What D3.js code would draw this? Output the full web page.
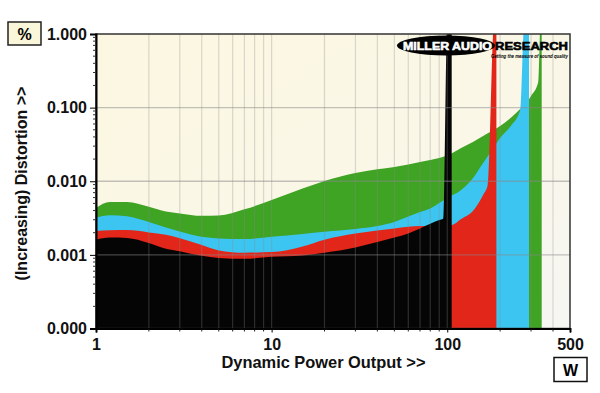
<!DOCTYPE html>
<html>
<head>
<meta charset="utf-8">
<script src="https://cdn.jsdelivr.net/npm/d3@7"></script>
<style>
  body { margin: 0; background: #fff; }
  svg { display: block; font-family: "Liberation Sans", Arial, sans-serif; }
  .tick text { font-weight: bold; font-size: 16px; fill: #111; }
</style>
</head>
<body>
<div id="chart"></div>
<script>
// power (W) and distortion (%), one pair of arrays per trace
var powerGreen = [1, 1.2, 1.5, 2, 2.5, 3, 4, 5, 7, 10, 15, 20, 25, 30, 40, 50, 60, 70, 80, 90, 100, 120, 140, 160, 200, 250, 300, 330, 340, 345];
var distGreen = [0.00433, 0.00522, 0.00522, 0.00449, 0.00387, 0.00366, 0.00339, 0.00342, 0.00415, 0.00556, 0.00796, 0.0101, 0.0117, 0.0129, 0.0145, 0.0156, 0.0169, 0.0182, 0.0194, 0.0207, 0.0223, 0.0283, 0.0341, 0.0411, 0.0562, 0.0871, 0.144, 0.223, 1.5, 1.5];

var powerBlue = [1, 1.2, 1.5, 2, 2.5, 3, 4, 5, 7, 10, 15, 20, 30, 40, 50, 60, 70, 80, 90, 100, 120, 140, 160, 180, 200, 230, 260, 275, 292];
var distBlue = [0.00321, 0.00344, 0.00335, 0.00279, 0.00235, 0.00207, 0.00176, 0.00167, 0.00164, 0.00176, 0.00192, 0.00206, 0.00224, 0.00246, 0.00279, 0.00331, 0.00382, 0.00426, 0.00506, 0.00591, 0.00759, 0.0110, 0.0177, 0.0265, 0.0387, 0.0562, 0.0927, 1.5, 1.5];

var powerRed = [1, 1.2, 1.5, 2, 2.5, 3, 4, 5, 7, 10, 15, 20, 30, 40, 50, 60, 70, 80, 90, 106, 120, 140, 160, 170, 185, 190.5];
var distRed = [0.00211, 0.00216, 0.00217, 0.00202, 0.00187, 0.00168, 0.00136, 0.00115, 0.00107, 0.00109, 0.00130, 0.00161, 0.00195, 0.00214, 0.00228, 0.00241, 0.00246, 0.00249, 0.00252, 0.00254, 0.00306, 0.00394, 0.00649, 0.00887, 1.5, 1.5];

var powerBlack = [1, 1.2, 1.5, 2, 2.5, 3, 4, 5, 7, 10, 15, 20, 30, 40, 50, 60, 70, 80, 90, 95, 100, 106];
var distBlack = [0.00161, 0.00172, 0.00170, 0.00145, 0.00121, 0.00112, 0.00097, 0.00091, 0.000885, 0.00094, 0.00098, 0.00107, 0.00126, 0.00149, 0.00172, 0.00195, 0.00228, 0.00264, 0.00297, 0.00313, 1.5, 1.5];

// axis ticks
var xTicks = [1, 10, 100, 500];
var xTickLabels = ["1", "10", "100", "500"];
var yTicks = [0.0001, 0.001, 0.01, 0.1, 1];
var yTickLabels = ["0.000", "0.001", "0.010", "0.100", "1.000"];

var svgWidth = 600, svgHeight = 393;
var margin = {top: 34, right: 30, bottom: 64.5, left: 96};
var width = svgWidth - margin.left - margin.right;
var height = svgHeight - margin.top - margin.bottom;

var svg = d3.select("#chart").append("svg")
    .attr("width", svgWidth)
    .attr("height", svgHeight);

var defs = svg.append("defs");
var grad = defs.append("linearGradient")
    .attr("id", "bg")
    .attr("x1", "0").attr("y1", "0").attr("x2", "1").attr("y2", "1");
grad.append("stop").attr("offset", "0").attr("stop-color", "#fbf7e1");
grad.append("stop").attr("offset", "0.6").attr("stop-color", "#faf7e8");
grad.append("stop").attr("offset", "1").attr("stop-color", "#f6f6f3");

defs.append("clipPath").attr("id", "plotclip")
  .append("rect").attr("width", width).attr("height", height);

var chartGroup = svg.append("g")
    .attr("transform", `translate(${margin.left}, ${margin.top})`);

var xScale = d3.scaleLog().domain([1, 500]).range([0, width]);
var yScale = d3.scaleLog().domain([0.0001, 1]).range([height, 0]);

chartGroup.append("rect")
    .attr("width", width)
    .attr("height", height)
    .attr("fill", "url(#bg)");

var plot = chartGroup.append("g").attr("clip-path", "url(#plotclip)");

var area = d3.area()
    .x(d => xScale(d[0]))
    .y0(height)
    .y1(d => yScale(d[1]))
    .curve(d3.curveMonotoneX);

var traces = [
    {p: powerGreen, v: distGreen, color: "#3fa324"},
    {p: powerBlue, v: distBlue, color: "#3cc5f0"},
    {p: powerRed, v: distRed, color: "#e2261a"},
    {p: powerBlack, v: distBlack, color: "#050505"}
];

traces.forEach(t => {
    plot.append("path")
        .datum(t.p.map((p, i) => [p, t.v[i]]))
        .attr("fill", t.color)
        .attr("d", area);
});

// grid, drawn over the fills
var minorX = [];
[1, 10, 100].forEach(dec => {
    for (var k = 2; k <= 9; k++) {
        if (dec * k < 500) minorX.push(dec * k);
    }
});
var gridX = minorX.concat([10, 100]);
var gridY = [0.001, 0.01, 0.1];

plot.append("g").selectAll("line")
    .data(gridX)
    .enter().append("line")
    .attr("x1", d => xScale(d)).attr("x2", d => xScale(d))
    .attr("y1", 0).attr("y2", height)
    .attr("stroke", "#8a8a8a")
    .attr("stroke-opacity", 0.3)
    .attr("stroke-width", 1.2);

plot.append("g").selectAll("line")
    .data(gridY)
    .enter().append("line")
    .attr("x1", 0).attr("x2", width)
    .attr("y1", d => yScale(d)).attr("y2", d => yScale(d))
    .attr("stroke", "#888")
    .attr("stroke-opacity", 0.5)
    .attr("stroke-width", 1.4);

// frame
chartGroup.append("rect")
    .attr("width", width).attr("height", height)
    .attr("fill", "none")
    .attr("stroke", "#333")
    .attr("stroke-width", 1.5);

// axes
var bottomAxis = d3.axisBottom(xScale)
    .tickValues(xTicks)
    .tickFormat((d, i) => xTickLabels[i])
    .tickSize(4)
    .tickPadding(6);
var xAxis = chartGroup.append("g")
    .attr("transform", `translate(0, ${height})`)
    .call(bottomAxis);
xAxis.select(".domain").attr("stroke", "#000").attr("stroke-width", 2);

chartGroup.append("g")
    .attr("transform", `translate(0, ${height})`)
    .selectAll("line")
    .data(minorX)
    .enter().append("line")
    .attr("x1", d => xScale(d)).attr("x2", d => xScale(d))
    .attr("y1", 1).attr("y2", 3)
    .attr("stroke", "#222");

var leftAxis = d3.axisLeft(yScale)
    .tickValues(yTicks)
    .tickFormat((d, i) => yTickLabels[i])
    .tickSize(6)
    .tickPadding(3);
var yAxis = chartGroup.append("g").call(leftAxis);
yAxis.select(".domain").attr("stroke", "#000").attr("stroke-width", 2);

var minorY = [];
[0.0001, 0.001, 0.01, 0.1].forEach(dec => {
    for (var k = 2; k <= 9; k++) minorY.push(dec * k);
});
chartGroup.append("g").selectAll("line")
    .data(minorY)
    .enter().append("line")
    .attr("x1", -3).attr("x2", 0)
    .attr("y1", d => yScale(d)).attr("y2", d => yScale(d))
    .attr("stroke", "#333");

// axis titles
svg.append("text")
    .attr("x", 323.5)
    .attr("y", 368)
    .attr("text-anchor", "middle")
    .attr("font-weight", "bold")
    .attr("font-size", "16.4px")
    .attr("fill", "#111")
    .text("Dynamic Power Output >>");

svg.append("text")
    .attr("transform", "translate(27, 183.5) rotate(-90)")
    .attr("text-anchor", "middle")
    .attr("font-weight", "bold")
    .attr("font-size", "16px")
    .attr("fill", "#111")
    .text("(Increasing) Distortion >>");

// unit boxes
svg.append("rect")
    .attr("x", 8).attr("y", 22).attr("width", 33).attr("height", 23)
    .attr("fill", "#faf6d9").attr("stroke", "#222").attr("stroke-width", 1.5);
svg.append("text")
    .attr("x", 24.5).attr("y", 39.5)
    .attr("text-anchor", "middle")
    .attr("font-weight", "bold").attr("font-size", "16px")
    .text("%");

svg.append("rect")
    .attr("x", 554).attr("y", 357.5).attr("width", 33).attr("height", 24)
    .attr("fill", "#fff").attr("stroke", "#111").attr("stroke-width", 1.5);
svg.append("text")
    .attr("x", 570.5).attr("y", 375.5)
    .attr("text-anchor", "middle")
    .attr("font-weight", "bold").attr("font-size", "16px")
    .text("W");

// logo
var logo = svg.append("g");
logo.append("ellipse")
    .attr("cx", 446).attr("cy", 45.5).attr("rx", 49).attr("ry", 10)
    .attr("fill", "#000");
logo.append("text")
    .attr("x", 403).attr("y", 49.5)
    .attr("font-weight", "bold").attr("font-size", "11.5px")
    .attr("fill", "#fff").attr("stroke", "#fff").attr("stroke-width", 0.6)
    .attr("textLength", 89).attr("lengthAdjust", "spacingAndGlyphs")
    .text("MILLER AUDIO");
logo.append("text")
    .attr("x", 495).attr("y", 49.5)
    .attr("font-weight", "bold").attr("font-size", "11.5px")
    .attr("fill", "#000").attr("stroke", "#000").attr("stroke-width", 0.6)
    .attr("textLength", 73).attr("lengthAdjust", "spacingAndGlyphs")
    .text("RESEARCH");
logo.append("text")
    .attr("x", 491).attr("y", 57.5)
    .attr("font-weight", "bold").attr("font-style", "italic").attr("font-size", "5.5px")
    .attr("fill", "#000")
    .attr("textLength", 77).attr("lengthAdjust", "spacingAndGlyphs")
    .text("Getting the measure of sound quality");
</script>
</body>
</html>
